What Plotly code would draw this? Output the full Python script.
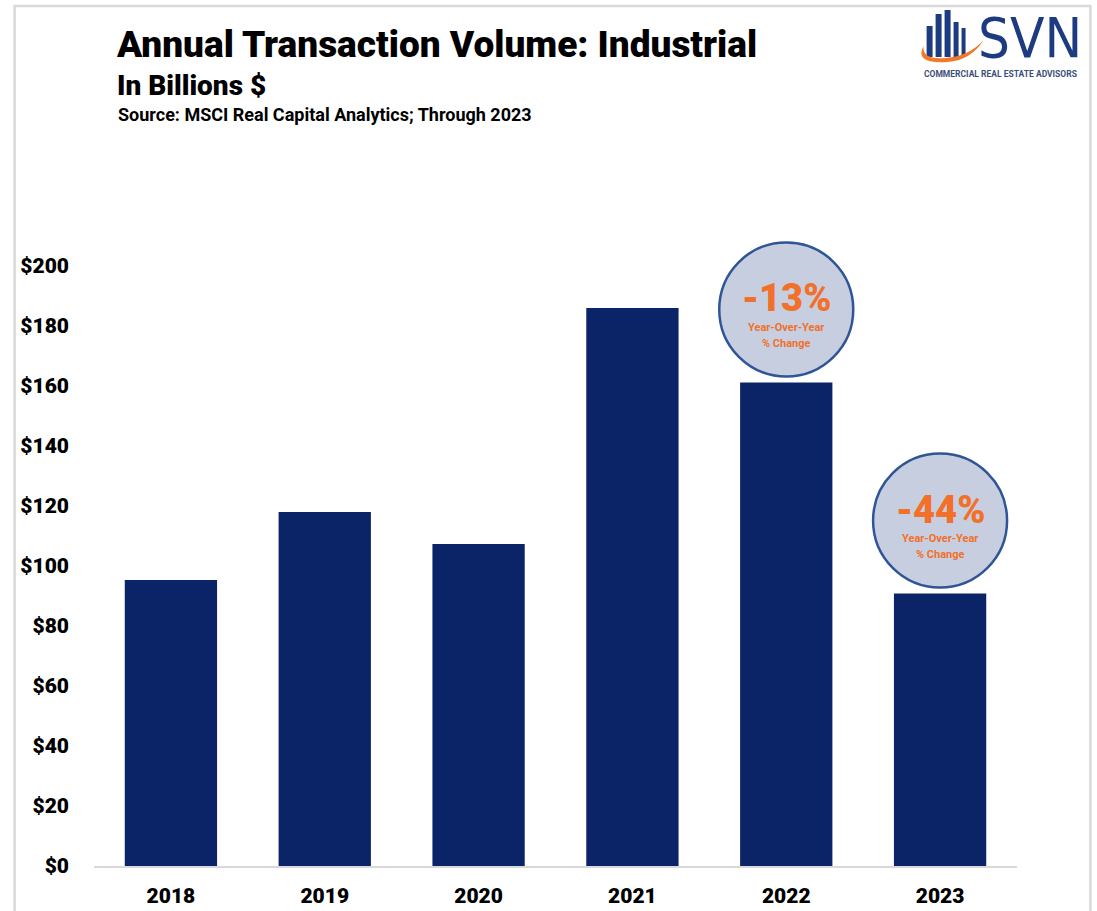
import plotly.graph_objects as go

# ---- data ----
years = ["2018", "2019", "2020", "2021", "2022", "2023"]
volume_bn = [95.3, 118.0, 107.3, 186.0, 161.2, 90.8]
callout_years = ["2022", "2023"]

title = "Annual Transaction Volume: Industrial"
subtitle = "In Billions $"
source = "Source: MSCI Real Capital Analytics; Through 2023"

# ---- style ----
# intended on-screen plot area: x 93.5..1017.5, y 236..866
PL, PR, PT, PB = 93.5, 1017.5, 236, 866
W, H = 1100, 920
L, T, B = PL, PT, 45
R = W - L - (PR - PL)
NAVY = "#0b2468"
ORANGE = "#f2702a"
CIRCLE_FILL = "#c6cee0"
CIRCLE_LINE = "#2f5597"
FONT = "Liberation Sans Narrow, Arial Narrow, Roboto, sans-serif"
FONT_C = "DejaVu Sans Condensed, Roboto, sans-serif"


def px(x):
    return (x - PL) / (PR - PL)


def py(y):
    return (PB - y) / (PB - PT)


fig = go.Figure(
    go.Bar(
        x=years,
        y=volume_bn,
        marker=dict(color=NAVY, line=dict(width=0)),
    )
)

shapes = []
annotations = []

# YoY callouts
for yr in callout_years:
    i = years.index(yr)
    v = volume_bn[i]
    prev = volume_bn[i - 1]
    pct = round((v - prev) / prev * 100)
    shapes.append(dict(
        type="circle", xref="x", yref="y",
        xsizemode="pixel", ysizemode="pixel",
        xanchor=i, yanchor=v,
        x0=-67, x1=67, y0=6, y1=140,
        fillcolor=CIRCLE_FILL, line=dict(color=CIRCLE_LINE, width=2.5),
        layer="above",
    ))
    annotations.append(dict(
        x=i, y=v, xref="x", yref="y", yshift=84, showarrow=False,
        text=f"{pct}%", font=dict(family=FONT, size=38, color=ORANGE, weight=900),
        yanchor="middle",
    ))
    annotations.append(dict(
        x=i, y=v, xref="x", yref="y", yshift=55, showarrow=False,
        text="<b>Year-Over-Year</b>", font=dict(family=FONT, size=11, color=ORANGE),
        yanchor="middle",
    ))
    annotations.append(dict(
        x=i, y=v, xref="x", yref="y", yshift=39, showarrow=False,
        text="<b>% Change</b>", font=dict(family=FONT, size=11, color=ORANGE),
        yanchor="middle",
    ))

# titles
annotations += [
    dict(x=px(114), y=py(45), xref="paper", yref="paper", showarrow=False,
         xanchor="left", yanchor="middle", text=title,
         font=dict(family=FONT, size=37, color="#000000", weight=900)),
    dict(x=px(115), y=py(86), xref="paper", yref="paper", showarrow=False,
         xanchor="left", yanchor="middle", text=subtitle,
         font=dict(family=FONT, size=28, color="#000000", weight=900)),
    dict(x=px(116), y=py(114), xref="paper", yref="paper", showarrow=False,
         xanchor="left", yanchor="middle", text=f"<b>{source}</b>",
         font=dict(family=FONT, size=18, color="#000000")),
]

# logo
annotations += [
    dict(x=px(1085), y=py(37), xref="paper", yref="paper", showarrow=False,
         xanchor="right", yanchor="middle", text="SVN",
         font=dict(family=FONT_C, size=56, color="#1d3b80")),
    dict(x=px(1001), y=py(74), xref="paper", yref="paper", showarrow=False,
         xanchor="center", yanchor="middle", text="<b>COMMERCIAL REAL ESTATE ADVISORS</b>",
         font=dict(family=FONT, size=8.5, color="#3c4f7a")),
]
logo_bars = [(927, 933, 26), (936, 942, 14), (945, 951, 10), (954, 959, 22), (962, 966, 28)]
for x0, x1, top in logo_bars:
    shapes.append(dict(type="rect", xref="paper", yref="paper",
                       x0=px(x0), x1=px(x1), y0=py(57), y1=py(top),
                       fillcolor="#1d3b80", line=dict(width=0)))
shapes.append(dict(
    type="path", xref="paper", yref="paper",
    path=(f"M {px(924)},{py(46)} Q {px(914)},{py(64)} {px(948)},{py(62)} "
          f"Q {px(972)},{py(60)} {px(984)},{py(40)} "
          f"Q {px(970)},{py(56)} {px(946)},{py(58)} "
          f"Q {px(922)},{py(60)} {px(924)},{py(46)} Z"),
    fillcolor="#f07a2a", line=dict(width=0)))

# frame border
shapes.append(dict(type="path", xref="paper", yref="paper",
                   path=f"M {px(14)},{py(940)} L {px(14)},{py(6)} L {px(1091)},{py(6)} L {px(1091)},{py(940)}",
                   line=dict(color="#d9d9d9", width=2.5)))

fig.update_layout(
    width=W, height=H, autosize=False,
    margin=dict(l=L, r=R, t=T, b=B),
    paper_bgcolor="white", plot_bgcolor="white",
    showlegend=False,
    bargap=0.4,
    shapes=shapes,
    annotations=annotations,
    font=dict(family=FONT, color="#000000"),
)
fig.update_xaxes(
    type="category", range=[-0.5, len(years) - 0.5], autorange=False,
    showgrid=False, zeroline=False,
    showline=True, linecolor="#d9d9d9", linewidth=2,
    tickfont=dict(family=FONT, size=21, color="#000000", weight=900),
    ticks="", ticklabelstandoff=10,
)
fig.update_yaxes(
    range=[0, 210], dtick=20, tick0=0, autorange=False,
    showgrid=False, zeroline=False, showline=False,
    tickprefix="$",
    tickfont=dict(family=FONT, size=21, color="#000000", weight=900),
    ticks="", ticklabelstandoff=24,
)

POST = (
    "document.documentElement.style.margin='0';"
    "document.documentElement.style.overflow='hidden';"
    "document.body.style.margin='0';"
    "document.body.style.overflow='hidden';"
    "var gd=document.getElementById('{plot_id}');"
    "gd.style.position='absolute';gd.style.top='0px';gd.style.left='0px';"
)

fig.write_html(
    "out.html",
    config={"displayModeBar": False},
    post_script=POST,
)
